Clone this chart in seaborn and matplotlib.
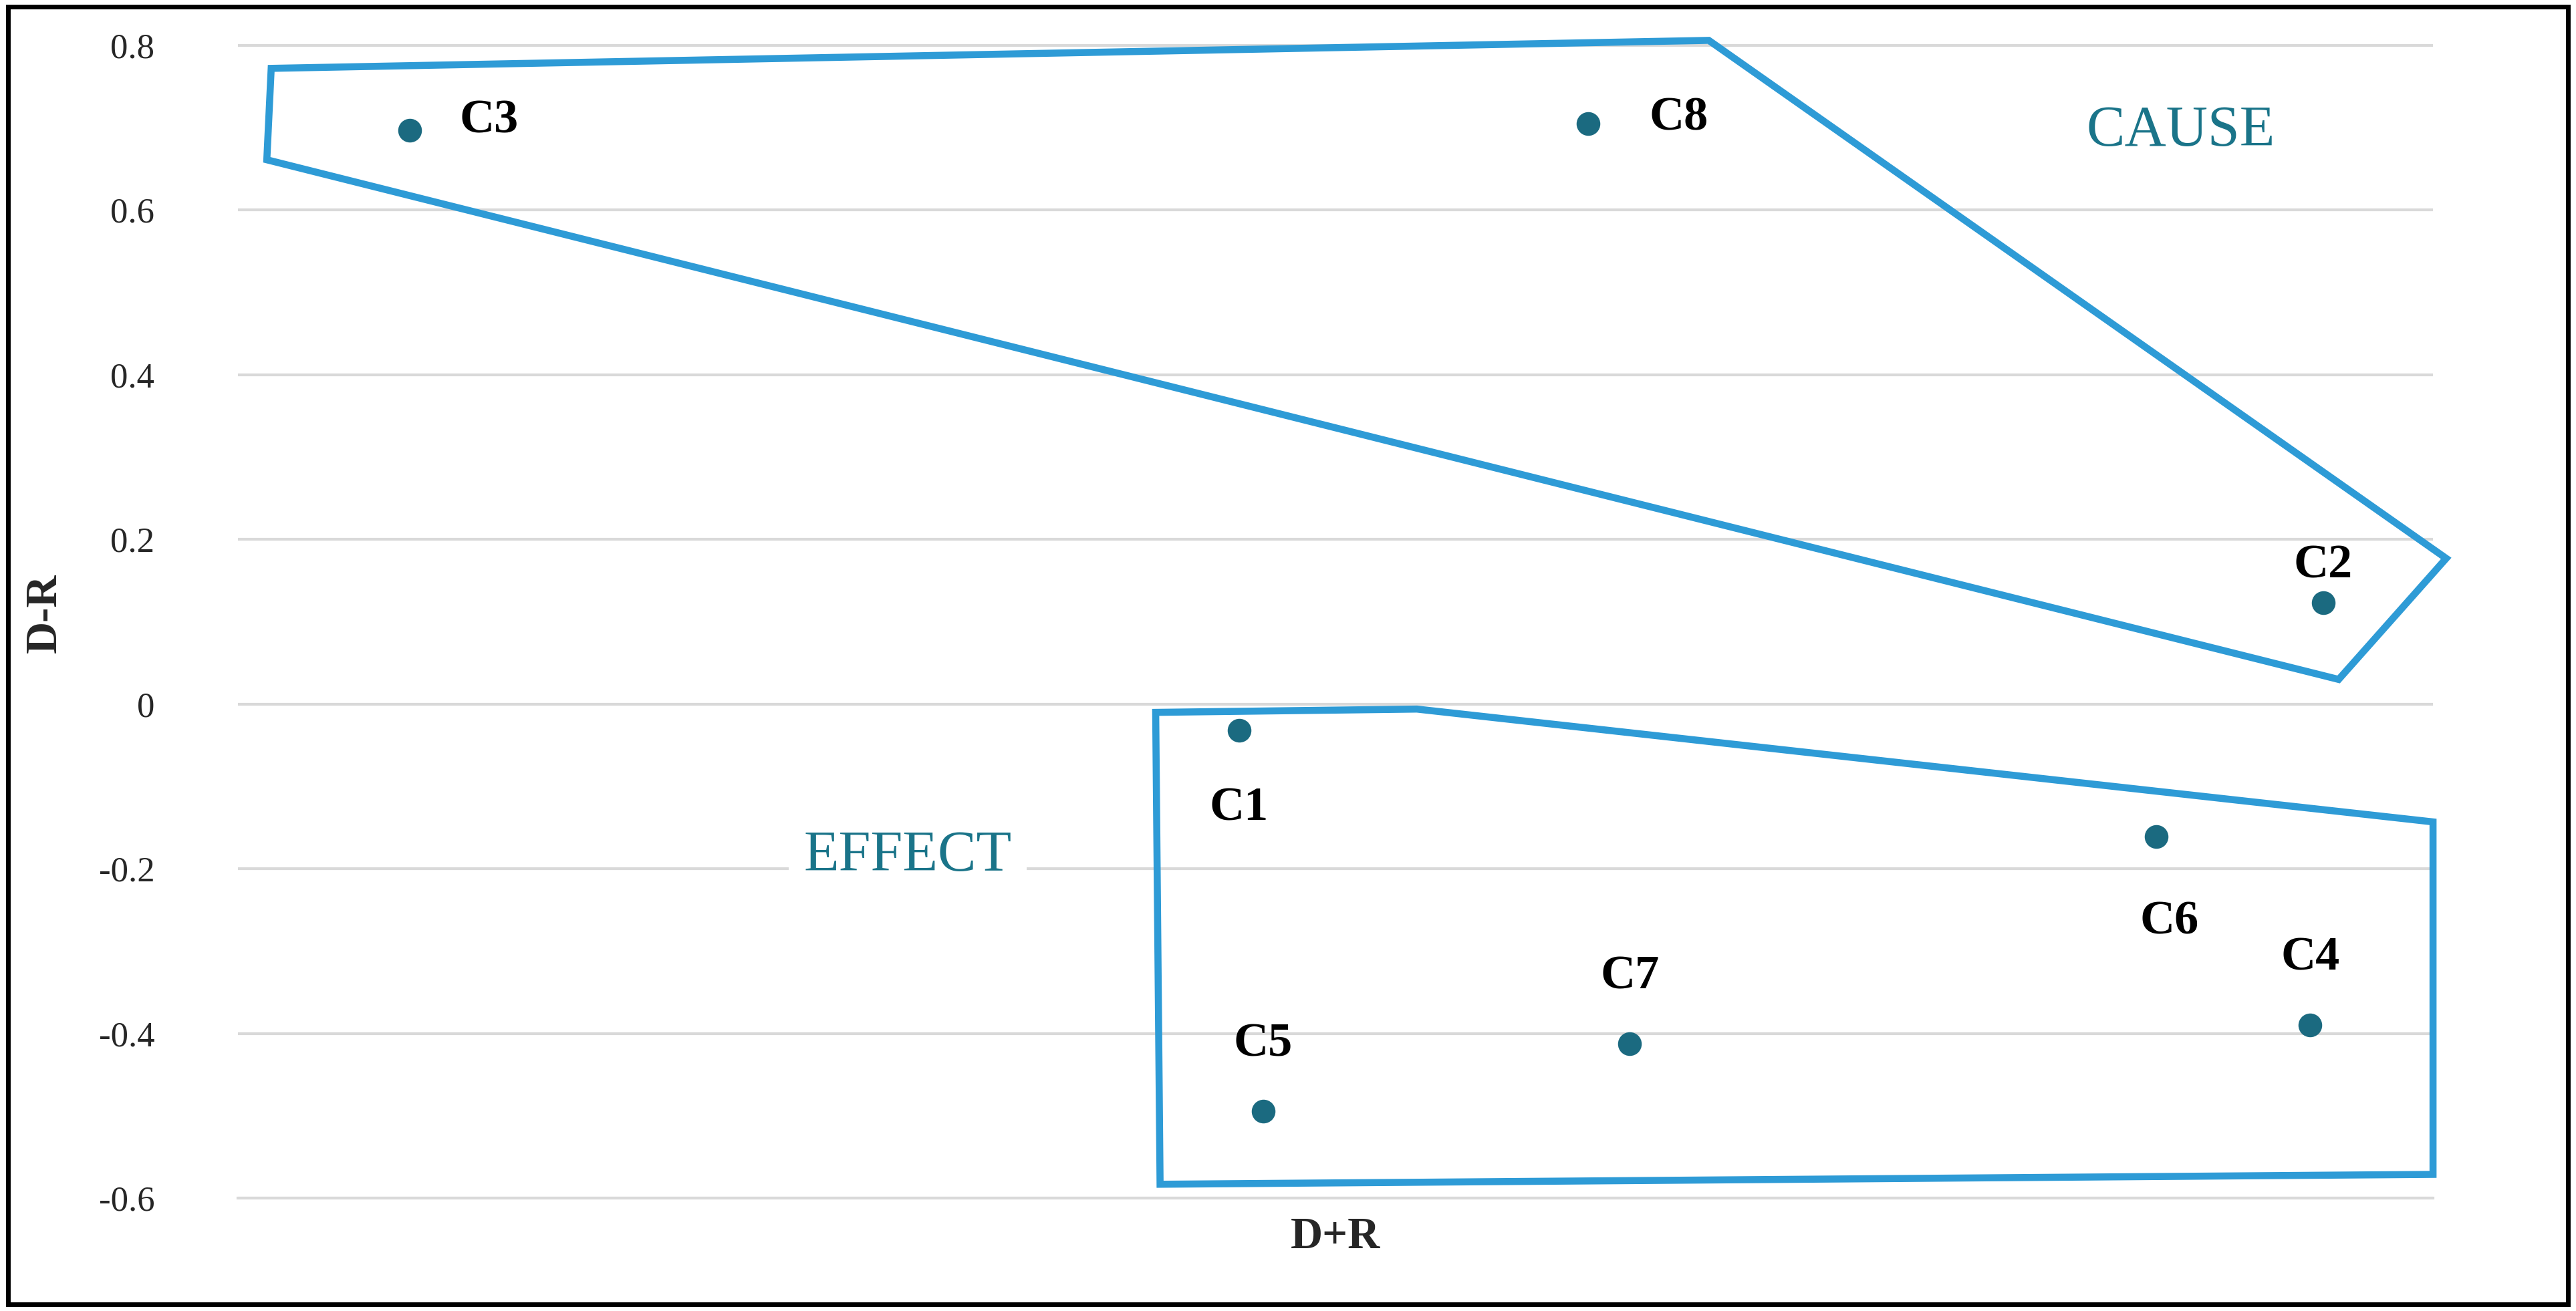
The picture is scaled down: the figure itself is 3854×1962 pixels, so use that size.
import seaborn as sns
import matplotlib.pyplot as plt
import pandas as pd

# data (D+R axis has no labels; positions estimated on a 0-10 scale)
labels = ['C1', 'C2', 'C3', 'C4', 'C5', 'C6', 'C7', 'C8']
d_plus_r = [4.56, 9.50, 0.78, 9.44, 4.67, 8.74, 6.34, 6.15]
d_minus_r = [-0.032, 0.123, 0.697, -0.390, -0.494, -0.161, -0.412, 0.705]

cause_x = [0.15, 6.70, 10.06, 9.57, 0.13]
cause_y = [0.772, 0.806, 0.177, 0.030, 0.661]
effect_x = [4.18, 5.37, 10.0, 10.0, 4.20]
effect_y = [-0.010, -0.006, -0.143, -0.571, -0.583]

# label offsets in points (dx, dy) relative to each dot
offsets = {'C1': (0, -42), 'C2': (0, 20), 'C3': (27, 5), 'C4': (0, 36),
           'C5': (0, 36), 'C6': (7, -46), 'C7': (0, 36), 'C8': (33, 3)}

df = pd.DataFrame({'label': labels, 'D+R': d_plus_r, 'D-R': d_minus_r})

sns.set_theme(style='white')
plt.rcParams['font.family'] = ['Liberation Serif', 'DejaVu Serif']

fig = plt.figure(figsize=(19.27, 9.81), dpi=200)
ax = fig.add_axes([0.0925, 0.086, 0.852, 0.892])

blue = '#2E9BD6'
teal = '#1B6A80'

ax.fill(cause_x, cause_y, fill=False, edgecolor=blue, lw=3.8, clip_on=False, zorder=2)
ax.fill(effect_x, effect_y, fill=False, edgecolor=blue, lw=3.8, clip_on=False, zorder=2)

sns.scatterplot(data=df, x='D+R', y='D-R', ax=ax, color=teal, s=140,
                edgecolor=teal, zorder=3, legend=False)

for lab, x, y in zip(labels, d_plus_r, d_minus_r):
    dx, dy = offsets[lab]
    ax.annotate(lab, (x, y), xytext=(dx, dy), textcoords='offset points',
                ha='center' if dx < 20 else 'left', va='center',
                fontsize=26, fontweight='bold', color='black')

ax.text(8.85, 0.695, 'CAUSE', fontsize=31, color='#1A7489', ha='center', va='center')
ax.text(3.05, -0.185, 'EFFECT', fontsize=31, color='#1A7489', ha='center', va='center',
        bbox=dict(facecolor='white', edgecolor='none', pad=8))

ax.set_xlim(0, 10)
ax.set_ylim(-0.6, 0.82)
ax.set_yticks([-0.6, -0.4, -0.2, 0, 0.2, 0.4, 0.6, 0.8])
ax.set_yticklabels(['-0.6', '-0.4', '-0.2', '0', '0.2', '0.4', '0.6', '0.8'], fontsize=19)
ax.set_xticks([])
ax.grid(axis='y', color='#D9D9D9', lw=1.5)
ax.set_axisbelow(True)
for side in ['top', 'right', 'left']:
    ax.spines[side].set_visible(False)
ax.spines['bottom'].set_color('#D9D9D9')
ax.spines['bottom'].set_linewidth(1.5)
ax.tick_params(axis='y', length=0, pad=45)

ax.set_xlabel('D+R', fontsize=24, fontweight='bold', labelpad=10)
ax.set_ylabel('D-R', fontsize=24, fontweight='bold', labelpad=18)

fig.patches.append(plt.Rectangle((0.003, 0.005), 0.994, 0.99, transform=fig.transFigure,
                                 fill=False, edgecolor='black', lw=2.5))

fig.savefig('out.png', dpi=200)
